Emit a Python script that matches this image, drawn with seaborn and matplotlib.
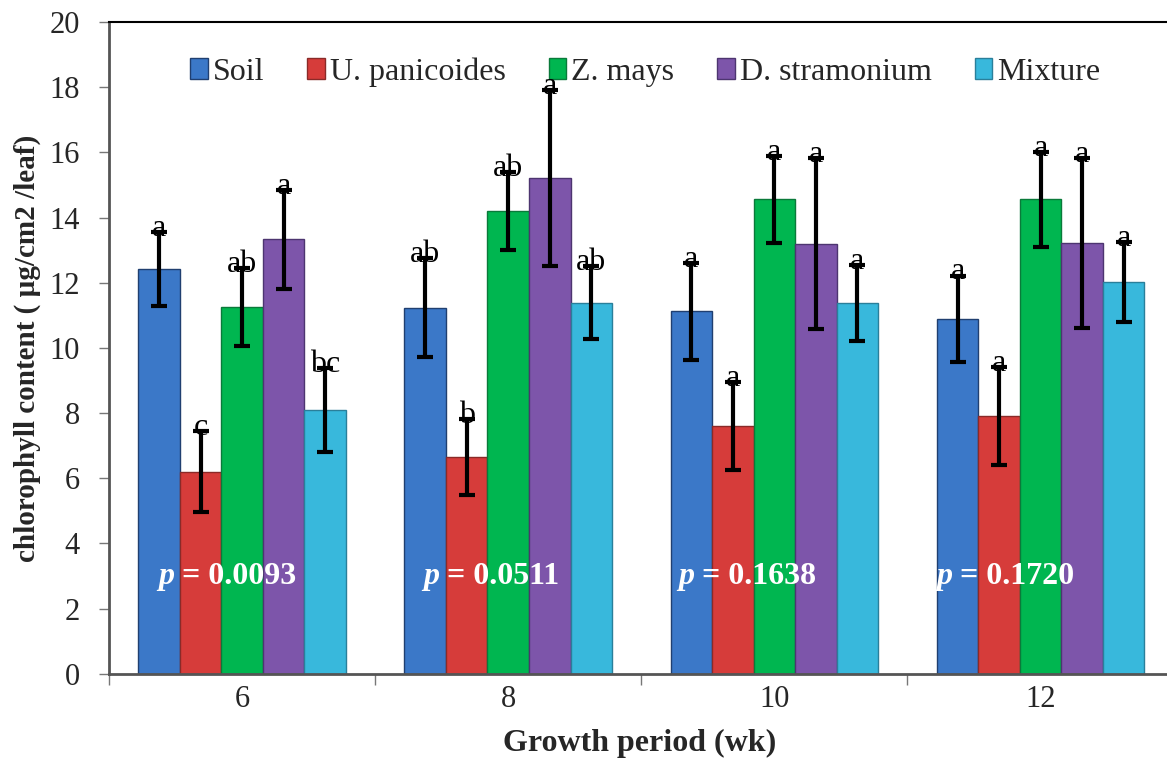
import numpy as np
import pandas as pd
import matplotlib
matplotlib.use("Agg")
import matplotlib.pyplot as plt
import seaborn as sns

# Chlorophyll content per treatment across growth periods
weeks = ["6", "8", "10", "12"]
treatments = ["Soil", "U. panicoides", "Z. mays", "D. stramonium", "Mixture"]

soil = [12.42, 11.24, 11.12, 10.89]
soil_err = [1.14, 1.53, 1.48, 1.33]
upan = [6.2, 6.66, 7.6, 7.92]
upan_err = [1.24, 1.17, 1.35, 1.5]
zmays = [11.25, 14.2, 14.56, 14.56]
zmays_err = [1.2, 1.2, 1.33, 1.45]
dstr = [13.33, 15.2, 13.2, 13.22]
dstr_err = [1.52, 2.7, 2.62, 2.6]
mix = [8.1, 11.39, 11.37, 12.03]
mix_err = [1.28, 1.12, 1.16, 1.22]

# significance letters (one per week, per treatment)
soil_lab = ["a", "ab", "a", "a"]
upan_lab = ["c", "b", "a", "a"]
zmays_lab = ["ab", "ab", "a", "a"]
dstr_lab = ["a", "a", "a", "a"]
mix_lab = ["bc", "ab", "a", "a"]

p_values = ["0.0093", "0.0511", "0.1638", "0.1720"]

colors = ["#3b78c8", "#d63c3a", "#00b650", "#7d55aa", "#38b8dc"]
edges = ["#203f70", "#8a2a28", "#0a7a3a", "#4d3570", "#2a7f9a"]

values = [soil, upan, zmays, dstr, mix]
errors = [soil_err, upan_err, zmays_err, dstr_err, mix_err]
labels = [soil_lab, upan_lab, zmays_lab, dstr_lab, mix_lab]

df = pd.DataFrame({
    "week": np.tile(weeks, len(treatments)),
    "treatment": np.repeat(treatments, len(weeks)),
    "value": np.concatenate(values),
})

sns.set_style("white")
plt.rcParams["font.family"] = ["Liberation Serif", "DejaVu Serif"]

fig = plt.figure(figsize=(11.67, 7.58), dpi=100)
ax = fig.add_axes([0.0934, 0.111, 0.91, 0.86])

sns.barplot(data=df, x="week", y="value", hue="treatment", order=weeks,
            hue_order=treatments, palette=colors, saturation=1, width=0.78,
            errorbar=None, linewidth=1.0, ax=ax)

bar_groups = list(ax.containers)

# edge colour per series, error bars and letters on top of each bar
for i, cont in enumerate(bar_groups):
    for j, bar in enumerate(cont):
        bar.set_edgecolor(edges[i])
        xc = bar.get_x() + bar.get_width() / 2
        h = bar.get_height()
        ax.errorbar(xc, h, yerr=errors[i][j], color="black", elinewidth=3,
                    capsize=5.5, capthick=3, zorder=5)
        ax.text(xc, h + errors[i][j] - 0.12, labels[i][j], ha="center",
                va="baseline", fontsize=23, color="black", zorder=6)

# p-values in white inside each group
p_offsets = [-0.315, -0.32, -0.36, -0.39]
for k, p in enumerate(p_values):
    ax.text(k + p_offsets[k], 2.75, "p", ha="left", va="baseline",
            fontsize=23, fontweight="bold", style="italic", color="white",
            zorder=6)
    ax.annotate(f"= {p}", xy=(k + p_offsets[k], 2.75), xytext=(17, 0),
                textcoords="offset points", ha="left", va="baseline",
                fontsize=23, fontweight="bold", color="white", zorder=6)

ax.set_ylim(0, 20)
ax.set_xlim(-0.5, 3.49)
ax.set_yticks(range(0, 21, 2))
ax.tick_params(axis="y", labelsize=22, length=7, width=1, direction="out",
               color="#777777", left=True, pad=14)
ax.tick_params(axis="x", labelsize=22, length=0, pad=8)
ax.set_xticks([-0.5, 0.5, 1.5, 2.5], minor=True)
ax.tick_params(axis="x", which="minor", length=8, width=1, color="#777777",
               bottom=True)

for side in ["left", "bottom"]:
    ax.spines[side].set_color("#555555")
    ax.spines[side].set_linewidth(2)
ax.spines["top"].set_color("black")
ax.spines["top"].set_linewidth(1.5)
ax.spines["right"].set_visible(False)

ax.set_xlabel("Growth period (wk)", fontsize=23, fontweight="bold", labelpad=11)
ax.set_ylabel("chlorophyll content ( µg/cm2 /leaf)", fontsize=21,
              fontweight="bold", labelpad=6)

leg = ax.legend(loc="upper center", bbox_to_anchor=(0.505, 0.99), ncol=5,
                frameon=False, fontsize=23, handlelength=0.55, handleheight=0.6,
                handletextpad=0.15, columnspacing=1.35)
for patch, ec in zip(leg.get_patches(), edges):
    patch.set_edgecolor(ec)

fig.savefig("out.png", dpi=100)
